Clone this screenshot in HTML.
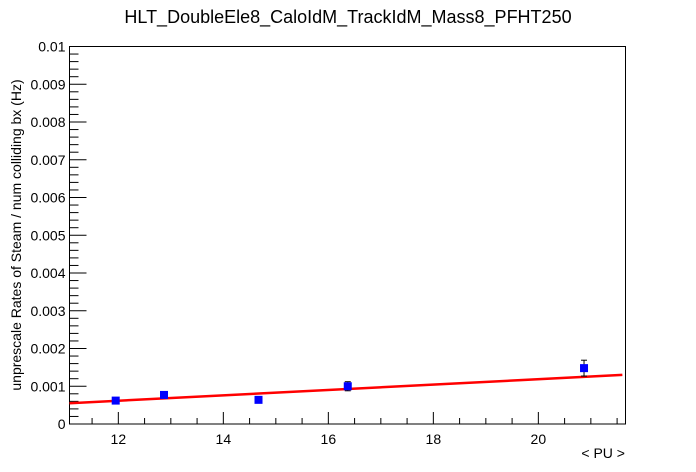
<!DOCTYPE html>
<html><head><meta charset="utf-8"><style>
body{margin:0;background:#fff;}
svg{display:block;font-family:"Liberation Sans",sans-serif;}
</style></head><body>
<svg id="c" width="696" height="472">
<text x="348" y="23" font-size="18" text-anchor="middle">HLT_DoubleEle8_CaloIdM_TrackIdM_Mass8_PFHT250</text>
<text transform="translate(21,235) rotate(-90)" font-size="14" text-anchor="middle">unprescale Rates of Steam / num colliding bx (Hz)</text>
<text x="625" y="458" font-size="14" text-anchor="end">&lt; PU &gt;</text>
<rect x="69.5" y="46.5" width="556" height="377.5" fill="none" stroke="#000" stroke-width="1"/>
</svg>
<script>
const xs=[11.95,12.87,14.67,16.37,20.87];
const ys=[0.00062,0.00077,0.00064,0.00100,0.00148];
const errs=[0.00003,0.00003,0.00003,0.00012,0.00021];
const fitX=[11.07,21.6];
const fitY=[0.00055,0.00130];
const xTicks=[12,14,16,18,20];
const yTicks=[0,0.001,0.002,0.003,0.004,0.005,0.006,0.007,0.008,0.009,0.01];
const yLabels=["0","0.001","0.002","0.003","0.004","0.005","0.006","0.007","0.008","0.009","0.01"];
const X0=69.5,X1=625.5,Y0=424,Y1=46.5,xmin=11.07,xmax=21.66,ymin=0,ymax=0.01;
const sx=v=>X0+(v-xmin)/(xmax-xmin)*(X1-X0);
const sy=v=>Y0-(v-ymin)/(ymax-ymin)*(Y0-Y1);
const svg=document.getElementById('c');const NS='http://www.w3.org/2000/svg';
function mk(t,a){const e=document.createElementNS(NS,t);for(const k in a)e.setAttribute(k,a[k]);svg.appendChild(e);return e;}
for(let i=0;i<=50;i++){const v=i*0.0002;const y=sy(v);const maj=i%5===0;
const t=mk('line',{x1:X0,x2:X0+(maj?17:9),y1:y,y2:y,stroke:'#000'});

}
yTicks.forEach((v,i)=>{const t=mk('text',{x:X0-4,y:sy(v)+5,'font-size':14,'text-anchor':'end'});t.textContent=yLabels[i];

});
for(let v=11.5;v<=21.5;v+=0.5){const x=sx(v);const maj=Math.abs(v-Math.round(v/2)*2)<1e-6;
const t=mk('line',{x1:x,x2:x,y1:Y0,y2:Y0-(maj?12:6),stroke:'#000'});

}
xTicks.forEach(v=>{const t=mk('text',{x:sx(v),y:Y0+20,'font-size':14,'text-anchor':'middle'});t.textContent=String(v);

});
const fl=mk('line',{x1:sx(fitX[0]),y1:sy(fitY[0]),x2:sx(fitX[1]),y2:sy(fitY[1]),stroke:'#f00','stroke-width':2.5});


xs.forEach((x,i)=>{const cx=sx(x),cy=sy(ys[i]);
const e=mk('line',{x1:cx,x2:cx,y1:sy(ys[i]+errs[i]),y2:sy(ys[i]-errs[i]),stroke:'#000'});


[ys[i]+errs[i],ys[i]-errs[i]].forEach(v=>{const c=mk('line',{x1:cx-3,x2:cx+3,y1:sy(v),y2:sy(v),stroke:'#000'});

});
const r=mk('rect',{x:cx-4,y:cy-4,width:8,height:8,fill:'#00f'});

});
</script>
</body></html>
